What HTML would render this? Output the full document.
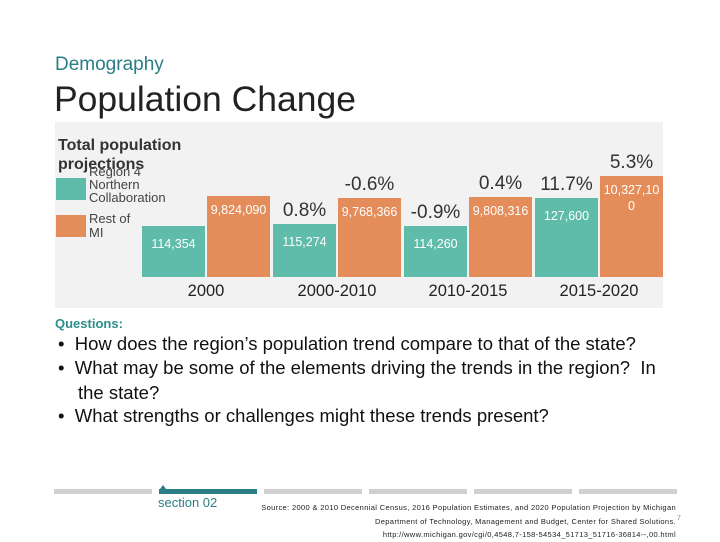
<!DOCTYPE html>
<html><head><meta charset="utf-8"><style>
body{margin:0;width:720px;height:540px;background:#fff;position:relative;overflow:hidden;font-family:"Liberation Sans",sans-serif}
.a{position:absolute;white-space:nowrap}
#chart{position:absolute;left:55px;top:122px;width:608px;height:186px;background:#f2f2f2}
.q{position:absolute;left:58px;font-family:"Liberation Sans",sans-serif;font-size:18.5px;color:#111;white-space:nowrap}
.bar{position:absolute}
.gr{position:absolute;top:489px;height:5px;background:#d0d0d0;width:98px}
</style></head><body>
<div class="a" style="left:55px;top:54px;font-size:19px;color:#2a7f86">Demography</div>
<div class="a" style="left:54px;top:79px;font-size:35.5px;color:#222">Population Change</div>
<div id="chart">
 <div class="a" style="left:3px;top:14px;font-size:16px;font-weight:bold;color:#333;line-height:19px;white-space:normal;width:140px">Total population projections</div>
 <div class="a" style="left:1px;top:56px;width:30px;height:22px;background:#5fbbaa"></div>
 <div class="a" style="left:34px;top:43px;font-size:13px;color:#444;line-height:13px">Region 4<br>Northern<br>Collaboration</div>
 <div class="a" style="left:1px;top:93px;width:30px;height:22px;background:#e58c5b"></div>
 <div class="a" style="left:34px;top:90px;font-size:13px;color:#444;line-height:14px">Rest of<br>MI</div>
</div>
<div class="a" style="left:55px;top:316px;font-size:13px;font-weight:bold;color:#2a8f8a">Questions:</div>
<div class="q" style="top:333px">•&nbsp;&nbsp;How does the region’s population trend compare to that of the state?</div>
<div class="q" style="top:357px">•&nbsp;&nbsp;What may be some of the elements driving the trends in the region?&nbsp; In</div>
<div class="q" style="top:382px;left:78px">the state?</div>
<div class="q" style="top:405px">•&nbsp;&nbsp;What strengths or challenges might these trends present?</div>
<div class="gr" style="left:54px"></div>
<div class="gr" style="left:159px;background:#2a7f86"></div>
<div class="a" style="left:160px;top:485px;width:0;height:0;border-left:3px solid transparent;border-right:3px solid transparent;border-bottom:4px solid #2a7f86"></div>
<div class="gr" style="left:264px"></div>
<div class="gr" style="left:369px"></div>
<div class="gr" style="left:474px"></div>
<div class="gr" style="left:579px"></div>
<div class="a" style="left:158px;top:495px;font-size:13px;color:#2a7f86">section 02</div>
<div class="a" style="right:44px;top:501px;font-size:7.5px;color:#222;text-align:right;line-height:13.5px;letter-spacing:0.35px">Source: 2000 &amp; 2010 Decennial Census, 2016 Population Estimates, and 2020 Population Projection by Michigan<br>Department of Technology, Management and Budget, Center for Shared Solutions.<br>http://www.michigan.gov/cgi/0,4548,7-158-54534_51713_51716-36814--,00.html</div>
<div class="a" style="left:677px;top:515px;font-size:7px;color:#888">7</div>
<script>
const categories=["2000","2000-2010","2010-2015","2015-2020"];
const regionValues=[114354,115274,114260,127600];
const restValues=[9824090,9768366,9808316,10327100];
const regionLabels=["114,354","115,274","114,260","127,600"];
const restLabels=["9,824,090","9,768,366","9,808,316","10,327,10<br>0"];
const regionPct=["","0.8%","-0.9%","11.7%"];
const restPct=["","-0.6%","0.4%","5.3%"];
const chart=document.getElementById('chart');
const baseY=155, x0=87, groupW=131, barW=63;
function hRegion(v){return 51+(v-114354)*0.00211;}
function hRest(v){return 81+(v-9824090)*0.0000398;}
function mk(name,css,html){const d=document.createElement('div');d.className='a';d.style.cssText=css;if(html!==undefined)d.innerHTML=html;chart.appendChild(d);


return d;}
categories.forEach((c,i)=>{
 const gx=x0+i*groupW;
 const hr=hRegion(regionValues[i]), ho=hRest(restValues[i]);
 mk('bar-region-'+i,`left:${gx}px;top:${baseY-hr}px;width:${barW}px;height:${hr}px;background:#5fbbaa`);
 mk('bar-rest-'+i,`left:${gx+65}px;top:${baseY-ho}px;width:${barW}px;height:${ho}px;background:#e58c5b`);
 mk('label-region-'+i,`left:${gx}px;top:${baseY-hr+11}px;width:${barW}px;text-align:center;font-size:12.5px;color:#fff`,regionLabels[i]);
 mk('label-rest-'+i,`left:${gx+65}px;top:${baseY-ho+6}px;width:${barW}px;text-align:center;font-size:12.5px;color:#fff;line-height:16px`,restLabels[i]);
 if(regionPct[i]) mk('pct-region-'+i,`left:${gx-10}px;top:${baseY-hr-24}px;width:${barW+20}px;text-align:center;font-size:19px;color:#333`,regionPct[i]);
 if(restPct[i]) mk('pct-rest-'+i,`left:${gx+55}px;top:${baseY-ho-24}px;width:${barW+20}px;text-align:center;font-size:19px;color:#333`,restPct[i]);
 mk('category-'+i,`left:${gx-10}px;top:${baseY+5}px;width:${2*barW+22}px;text-align:center;font-size:16.5px;color:#222`,c);
});
</script>
</body></html>
